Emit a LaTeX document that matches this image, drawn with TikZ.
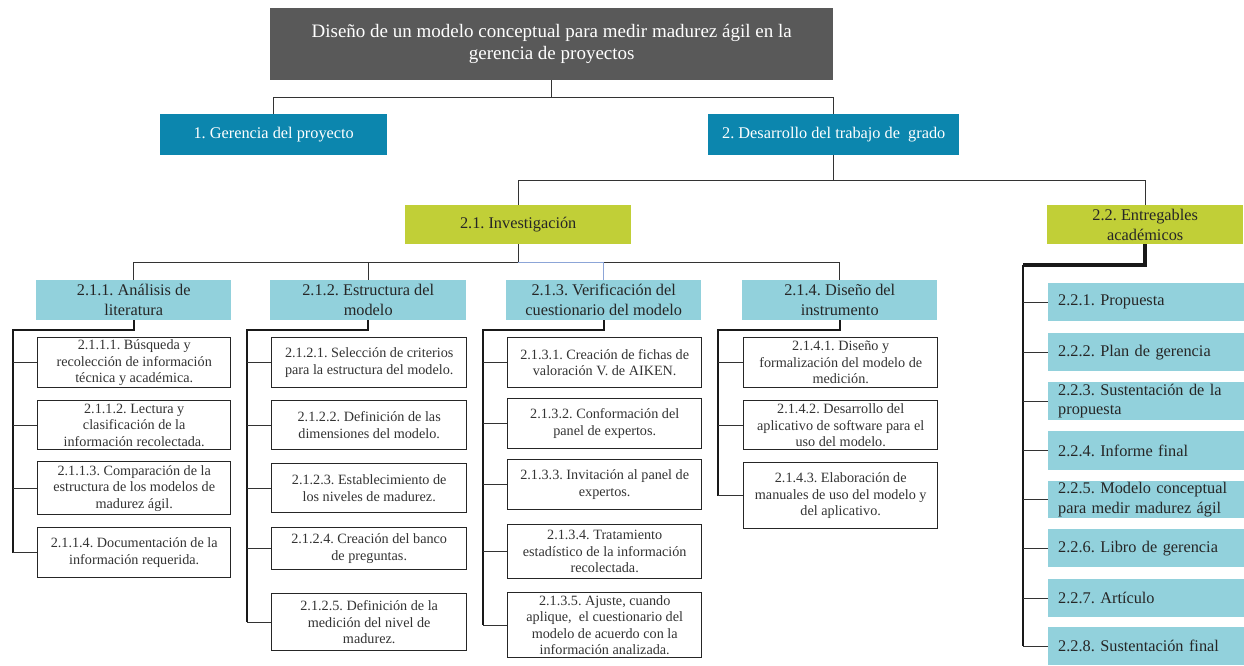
\documentclass[tikz,border=0pt]{standalone}
\usepackage{fontspec}
\setmainfont{Liberation Serif}
\frenchspacing
\definecolor{wbsgray}{RGB}{89,89,89}
\definecolor{wbsblue}{RGB}{12,134,174}
\definecolor{wbsgreen}{RGB}{193,207,55}
\definecolor{wbscyan}{RGB}{146,209,220}
\definecolor{wbslink}{RGB}{140,165,215}
\tikzset{
  dims/.style 2 args={minimum width=#1, minimum height=#2, anchor=north west, inner sep=0pt, align=center},
  rootbox/.style={fill=wbsgray, text=white, font=\fontsize{19}{22}\selectfont},
  phasebox/.style={fill=wbsblue, text=white, font=\fontsize{16.3}{20}\selectfont},
  stagebox/.style={fill=wbsgreen, text=black!85, font=\fontsize{16.3}{20}\selectfont},
  packbox/.style={fill=wbscyan, text=black!85, font=\fontsize{16.3}{20}\selectfont},
  taskbox/.style={draw=black!85, line width=1.4pt, fill=white, text=black!80, font=\fontsize{14.2}{16.6}\selectfont},
  delivbox/.style={fill=wbscyan, text=black!85, font=\fontsize{16.3}{19.5}\selectfont, anchor=north west,
    minimum height=#1, text width=176pt, inner xsep=10pt, inner ysep=0pt, align=left},
  conn/.style={line width=1.2pt, black!80},
  spine/.style={line width=2pt, black!90},
}
\begin{document}
\begin{tikzpicture}[x=1pt, y=-1pt]
    \useasboundingbox (0,0) rectangle (1244,665);

    % Root and phases
    \node[rootbox, dims={563}{72}] (root) at (270,8) {Diseño de un modelo conceptual para medir madurez ágil en la\\gerencia de proyectos};
    \node[phasebox, dims={227}{41}] (gp) at (160,114) {1. Gerencia del proyecto};
    \node[phasebox, dims={251}{41}] (dt) at (708,114) {2. Desarrollo del trabajo de~ grado};
    \node[stagebox, dims={226}{39}] (inv) at (405,205) {2.1. Investigación};
    \node[stagebox, dims={196}{39}] (ent) at (1047,205) {2.2. Entregables\\académicos};

    % Work packages of 2.1
    \node[packbox, dims={195}{40}] (a211) at (36,280) {2.1.1. Análisis de\\literatura};
    \node[packbox, dims={196}{40}] (a212) at (270,280) {2.1.2. Estructura del\\modelo};
    \node[packbox, dims={195}{40}] (a213) at (506,280) {2.1.3. Verificación del\\cuestionario del modelo};
    \node[packbox, dims={195}{40}] (a214) at (742,280) {2.1.4. Diseño del\\instrumento};

    % Tasks 2.1.1
    \node[taskbox, dims={193}{50}] (t2111) at (37,337) {2.1.1.1. Búsqueda y\\recolección de información\\técnica y académica.};
    \node[taskbox, dims={193}{49}] (t2112) at (37,400) {2.1.1.2. Lectura y\\clasificación de la\\información recolectada.};
    \node[taskbox, dims={193}{53}] (t2113) at (37,461) {2.1.1.3. Comparación de la\\estructura de los modelos de\\madurez ágil.};
    \node[taskbox, dims={193}{50}] (t2114) at (37,527) {2.1.1.4. Documentación de la\\información requerida.};

    % Tasks 2.1.2
    \node[taskbox, dims={195}{50}] (t2121) at (271,337) {2.1.2.1. Selección de criterios\\para la estructura del modelo.};
    \node[taskbox, dims={195}{49}] (t2122) at (271,400) {2.1.2.2. Definición de las\\dimensiones del modelo.};
    \node[taskbox, dims={195}{49}] (t2123) at (271,463) {2.1.2.3. Establecimiento de\\los niveles de madurez.};
    \node[taskbox, dims={195}{42}] (t2124) at (271,527) {2.1.2.4. Creación del banco\\de preguntas.};
    \node[taskbox, dims={195}{57}] (t2125) at (271,593) {2.1.2.5. Definición de la\\medición del nivel de\\madurez.};

    % Tasks 2.1.3
    \node[taskbox, dims={194}{50}] (t2131) at (507,337) {2.1.3.1. Creación de fichas de\\valoración V. de AIKEN.};
    \node[taskbox, dims={194}{50}] (t2132) at (507,398) {2.1.3.2. Conformación del\\panel de expertos.};
    \node[taskbox, dims={194}{50}] (t2133) at (507,459) {2.1.3.3. Invitación al panel de\\expertos.};
    \node[taskbox, dims={194}{54}] (t2134) at (507,524) {2.1.3.4. Tratamiento\\estadístico de la información\\recolectada.};
    \node[taskbox, dims={194}{65}] (t2135) at (507,592) {2.1.3.5. Ajuste, cuando\\aplique,~ el cuestionario del\\modelo de acuerdo con la\\información analizada.};

    % Tasks 2.1.4
    \node[taskbox, dims={194}{50}] (t2141) at (743,337) {2.1.4.1. Diseño y\\formalización del modelo de\\medición.};
    \node[taskbox, dims={194}{49}] (t2142) at (743,400) {2.1.4.2. Desarrollo del\\aplicativo de software para el\\uso del modelo.};
    \node[taskbox, dims={194}{66}] (t2143) at (743,462) {2.1.4.3. Elaboración de\\manuales de uso del modelo y\\del aplicativo.};

    % Deliverables 2.2
    \node[delivbox=38] (e221) at (1048,283) {2.2.1. Propuesta};
    \node[delivbox=38] (e222) at (1048,333) {2.2.2. Plan de gerencia};
    \node[delivbox=38] (e223) at (1048,382) {2.2.3. Sustentación de la\\propuesta};
    \node[delivbox=39] (e224) at (1048,431) {2.2.4. Informe final};
    \node[delivbox=37] (e225) at (1048,481) {2.2.5. Modelo conceptual\\para medir madurez ágil};
    \node[delivbox=38] (e226) at (1048,529) {2.2.6. Libro de gerencia};
    \node[delivbox=38] (e227) at (1048,579) {2.2.7. Artículo};
    \node[delivbox=38] (e228) at (1048,627) {2.2.8. Sustentación final};

    % Upper connectors
    \draw[conn] (root.south) -- ++(0,17) coordinate (h0) -| (gp.north);
    \draw[conn] (h0) -| (dt.north);
    \draw[conn] (dt.south) -- ++(0,25) coordinate (h1) -| (inv.north);
    \draw[conn] (h1) -| (ent.north);
    \draw[conn] (inv.south) -- ++(0,18) coordinate (h2) -| (a211.north);
    \draw[conn] (h2) -| (a212.north);
    \draw[conn] (h2) -| (a214.north);
    \draw[conn, wbslink] (h2) -| (a213.north);

    % Spines
    \coordinate (s211) at (13,330);
    \coordinate (s212) at (247,330);
    \coordinate (s213) at (483,330);
    \coordinate (s214) at (718,330);
    \coordinate (s22) at (1023,265);
    \draw[spine] (a211.south) |- (s211) -- (s211 |- t2114.west);
    \draw[spine] (a212.south) |- (s212) -- (s212 |- t2125.west);
    \draw[spine] (a213.south) |- (s213) -- (s213 |- t2135.west);
    \draw[spine] (a214.south) |- (s214) -- (s214 |- t2143.west);
    \draw[spine, line width=4pt] (ent.south) |- (s22);
    \draw[spine] (s22) -- (s22 |- e228.west);

    % Branches
    \foreach \i in {1,...,4} \draw[conn] (s211 |- t211\i.west) -- (t211\i.west);
    \foreach \i in {1,...,5} \draw[conn] (s212 |- t212\i.west) -- (t212\i.west);
    \foreach \i in {1,...,5} \draw[conn] (s213 |- t213\i.west) -- (t213\i.west);
    \foreach \i in {1,...,3} \draw[conn] (s214 |- t214\i.west) -- (t214\i.west);
    \foreach \i in {1,...,8} \draw[conn] (s22 |- e22\i.west) -- (e22\i.west);
\end{tikzpicture}
\end{document}
